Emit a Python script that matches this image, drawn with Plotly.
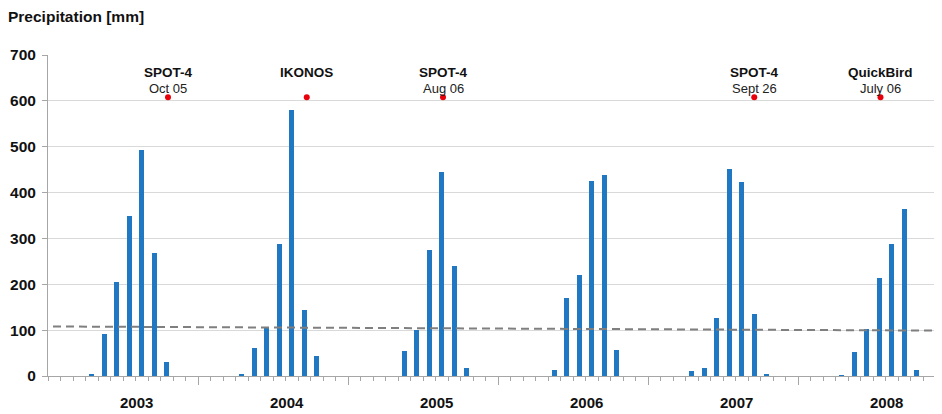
import plotly.graph_objects as go

years = [2003, 2004, 2005, 2006, 2007, 2008]
months = ["Jan", "Feb", "Mar", "Apr", "May", "Jun", "Jul", "Aug", "Sep", "Oct", "Nov", "Dec"]

# Monthly precipitation [mm], Jan..Dec for each year
precip_2003 = [0, 0, 0, 3, 92, 205, 348, 492, 269, 31, 0, 0]
precip_2004 = [0, 0, 0, 3, 62, 107, 287, 580, 144, 44, 0, 0]
precip_2005 = [0, 0, 0, 0, 55, 100, 274, 445, 240, 17, 0, 0]
precip_2006 = [0, 0, 0, 0, 14, 171, 221, 425, 438, 57, 0, 0]
precip_2007 = [0, 0, 0, 11, 18, 126, 452, 423, 136, 3, 0, 0]
precip_2008 = [0, 0, 0, 1, 53, 102, 213, 288, 364, 14, 0, 0]

# Linear trend of precipitation (start / end value), and where it starts / ends (month index)
trend_x = [-0.1, 70.5]
trend_y = [108, 99]

# Image acquisitions: sensor, date label, month index (0 = Jan 2003)
acq_sensor = ["SPOT-4", "IKONOS", "SPOT-4", "SPOT-4", "QuickBird"]
acq_date = ["Oct 05", "", "Aug 06", "Sept 26", "July 06"]
acq_month = [9.1, 20.2, 31.1, 56.0, 66.1]
acq_level = [608, 608, 608, 608, 608]

all_precip = precip_2003 + precip_2004 + precip_2005 + precip_2006 + precip_2007 + precip_2008
month_index = list(range(len(all_precip)))
hover = [f"{months[i % 12]} {years[i // 12]}" for i in month_index]

FONT = "Liberation Sans, Arial, sans-serif"
BLUE = "#1f78c1"
GRAY = "#a6a6a6"

fig = go.Figure()

fig.add_trace(go.Bar(
    x=month_index, y=all_precip, width=0.42,
    marker=dict(color=BLUE, line=dict(width=0)),
    hovertext=hover, hoverinfo="text+y", showlegend=False,
))

fig.add_trace(go.Scatter(
    x=trend_x, y=trend_y, mode="lines",
    line=dict(color="#7f7f7f", width=2, dash="8px,5px"),
    hoverinfo="skip", showlegend=False,
))

fig.add_trace(go.Scatter(
    x=acq_month, y=acq_level, mode="markers",
    marker=dict(color="#e8000b", size=6, line=dict(width=0)),
    hovertext=[f"{s} {d}" for s, d in zip(acq_sensor, acq_date)],
    hoverinfo="text", showlegend=False,
))

annotations = []
for s, d, m in zip(acq_sensor, acq_date, acq_month):
    annotations.append(dict(x=m, y=661, xref="x", yref="y", text=f"<b>{s}</b>",
                            showarrow=False, xanchor="center", yanchor="middle",
                            font=dict(family=FONT, size=13.5, color="#111111")))
    if d:
        annotations.append(dict(x=m, y=628, xref="x", yref="y", text=d,
                                showarrow=False, xanchor="center", yanchor="middle",
                                font=dict(family=FONT, size=13, color="#222222")))

for k, yr in enumerate(years):
    annotations.append(dict(x=k * 12 + 6.6, y=-0.084, xref="x", yref="paper",
                            text=f"<b>{yr}</b>", showarrow=False,
                            xanchor="center", yanchor="middle",
                            font=dict(family=FONT, size=15, color="#111111")))

year_bounds = [k * 12 - 0.5 for k in range(1, len(years))]

# The page adds an 8px body margin, so the figure is 8px smaller and margins shifted
fig.update_layout(
    width=934, height=406,
    margin=dict(l=40, r=1, t=47, b=38),
    paper_bgcolor="white", plot_bgcolor="white",
    font=dict(family=FONT, color="#111111"),
    title=dict(text="<b>Precipitation [mm]</b>", x=0.0, xanchor="left",
               y=0.978, yanchor="middle", xref="container", yref="container",
               pad=dict(l=0, r=0, t=0, b=0),
               font=dict(family=FONT, size=15.5, color="#111111")),
    bargap=0,
    annotations=annotations,
    xaxis=dict(
        range=[-0.5, 70.94], showgrid=False, zeroline=False,
        showline=True, linecolor=GRAY, linewidth=1,
        tickvals=year_bounds, ticktext=["" for _ in year_bounds],
        ticks="outside", ticklen=8, tickcolor=GRAY, tickwidth=1,
        minor=dict(tick0=-0.5, dtick=1, ticks="outside", ticklen=4,
                   tickcolor=GRAY, tickwidth=1, showgrid=False),
    ),
    yaxis=dict(
        range=[0, 700], tickvals=[0, 100, 200, 300, 400, 500, 600, 700],
        showgrid=True, gridcolor="#d9d9d9", gridwidth=1, zeroline=False,
        showline=True, linecolor=GRAY, linewidth=1,
        ticks="outside", ticklen=5, tickcolor=GRAY, ticklabelstandoff=3,
        tickfont=dict(family=FONT, size=15.5, color="#111111", weight="bold"),
    ),
)

fig.write_html("out.html")
